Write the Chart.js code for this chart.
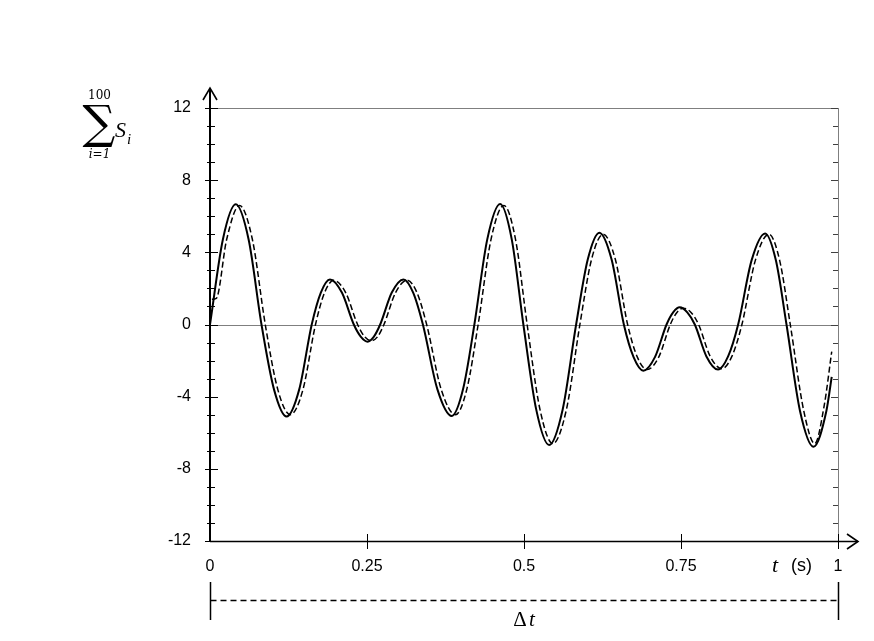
<!DOCTYPE html>
<html>
<head>
<meta charset="utf-8">
<script src="https://cdn.jsdelivr.net/npm/chart.js@4"></script>
<style>
html,body{margin:0;padding:0;background:#fff;}
canvas{display:block;}
</style>
</head>
<body>
<canvas id="c" width="874" height="641"></canvas>
<script>
// ---- data ----
const xTickLabels = ['0', '0.25', '0.5', '0.75', '1'];
const yTickLabels = ['-12', '-8', '-4', '0', '4', '8', '12'];

// solid curve: sum of 100 components
const solidT = [0, 0.0205, 0.041, 0.0615, 0.082, 0.102, 0.122, 0.142, 0.162, 0.1765, 0.191, 0.210, 0.229, 0.240, 0.251, 0.261, 0.271, 0.2895, 0.308, 0.3235, 0.339, 0.362, 0.385, 0.403, 0.421, 0.4415, 0.462, 0.4805, 0.499, 0.5195, 0.540, 0.5615, 0.583, 0.6015, 0.620, 0.6395, 0.659, 0.6745, 0.690, 0.7085, 0.727, 0.7375, 0.748, 0.760, 0.772, 0.7905, 0.809, 0.825, 0.841, 0.8625, 0.884, 0.901, 0.918, 0.9395, 0.961, 0.9815, 0.99];
const solidV = [0, 4.71, 6.66, 4.71, 0, -3.61, -5.1, -3.61, 0, 1.77, 2.5, 1.77, 0, -0.67, -0.95, -0.67, 0, 1.77, 2.5, 1.77, 0, -3.58, -5.07, -3.58, 0, 4.72, 6.68, 4.72, 0, -4.72, -6.68, -4.72, 0, 3.6, 5.09, 3.6, 0, -1.81, -2.56, -1.81, 0, 0.67, 0.95, 0.67, 0, -1.77, -2.5, -1.77, 0, 3.57, 5.05, 3.57, 0, -4.79, -6.77, -4.79, -2.9];

// dashed curve
const dashedT = [0.003, 0.010, 0.0265, 0.047, 0.0675, 0.088, 0.108, 0.128, 0.148, 0.168, 0.1825, 0.197, 0.216, 0.235, 0.246, 0.257, 0.267, 0.277, 0.2955, 0.314, 0.3295, 0.345, 0.368, 0.391, 0.409, 0.427, 0.4475, 0.468, 0.4865, 0.505, 0.5255, 0.546, 0.5675, 0.589, 0.6075, 0.626, 0.6455, 0.665, 0.6805, 0.696, 0.7145, 0.733, 0.7435, 0.754, 0.766, 0.778, 0.7965, 0.815, 0.831, 0.847, 0.8685, 0.890, 0.907, 0.924, 0.9455, 0.963, 0.978, 0.99];
const dashedV = [1.4, 1.45, 4.71, 6.6, 4.71, 0, -3.61, -5.0, -3.61, 0, 1.77, 2.45, 1.77, 0, -0.67, -0.9, -0.67, 0, 1.77, 2.45, 1.77, 0, -3.58, -5.0, -3.58, 0, 4.72, 6.6, 4.72, 0, -4.72, -6.6, -4.72, 0, 3.6, 5.0, 3.6, 0, -1.81, -2.5, -1.81, 0, 0.67, 0.9, 0.67, 0, -1.77, -2.45, -1.77, 0, 3.57, 5.0, 3.57, 0, -4.79, -6.6, -4.5, -1.5];

const solidData = solidT.map((t, i) => ({x: t, y: solidV[i]}));
const dashedData = dashedT.map((t, i) => ({x: t, y: dashedV[i]}));

const TICK_FONT = {family: '"Liberation Sans", Arial, sans-serif', size: 16};

const deco = {
  id: 'deco',
  beforeDatasetsDraw(chart) {
    const {ctx, chartArea: a, scales: {y}} = chart;
    const y0 = Math.round(y.getPixelForValue(0)) + 0.5;
    ctx.save();
    ctx.strokeStyle = '#7f7f7f';
    ctx.lineWidth = 1;
    ctx.beginPath(); ctx.moveTo(a.left, y0); ctx.lineTo(a.right, y0); ctx.stroke();
    ctx.restore();
  },
  afterDraw(chart) {
    const {ctx, chartArea: a, scales: {x, y}} = chart;
    const L = a.left, R = a.right, T = a.top, B = a.bottom;
    ctx.save();
    // frame top & right
    ctx.strokeStyle = '#7f7f7f';
    ctx.lineWidth = 1;
    ctx.beginPath();
    ctx.moveTo(L, T + 0.5); ctx.lineTo(R, T + 0.5);
    ctx.moveTo(R + 0.5, T); ctx.lineTo(R + 0.5, B);
    ctx.stroke();
    // right-side inward ticks
    ctx.strokeStyle = '#404040';
    ctx.beginPath();
    for (let v = -12; v <= 12; v++) {
      const py = Math.round(y.getPixelForValue(v)) + 0.5;
      const len = (v % 4 === 0) ? 7 : 5;
      ctx.moveTo(R, py); ctx.lineTo(R - len, py);
    }
    ctx.stroke();
    // y axis with arrow
    ctx.strokeStyle = '#000';
    ctx.lineWidth = 2;
    ctx.beginPath();
    ctx.moveTo(L, B); ctx.lineTo(L, T - 20);
    ctx.stroke();
    ctx.lineWidth = 1.6;
    ctx.beginPath();
    ctx.moveTo(L - 7, T - 8); ctx.lineTo(L, T - 20); ctx.lineTo(L + 7, T - 8);
    ctx.stroke();
    // y ticks
    ctx.lineWidth = 1;
    ctx.beginPath();
    for (let v = -12; v <= 12; v++) {
      const py = Math.round(y.getPixelForValue(v)) + 0.5;
      if (v % 4 === 0) { ctx.moveTo(L - 5, py); ctx.lineTo(L + 8, py); }
      else { ctx.moveTo(L - 3, py); ctx.lineTo(L + 5, py); }
    }
    ctx.stroke();
    // x axis with arrow
    ctx.lineWidth = 1.5;
    ctx.beginPath();
    ctx.moveTo(L, B + 0.5); ctx.lineTo(R + 20, B + 0.5);
    ctx.stroke();
    ctx.lineWidth = 1.6;
    ctx.beginPath();
    ctx.moveTo(R + 9, B - 7); ctx.lineTo(R + 20, B + 0.5); ctx.lineTo(R + 9, B + 8);
    ctx.stroke();
    // x ticks
    ctx.lineWidth = 1;
    ctx.beginPath();
    [0.25, 0.5, 0.75].forEach(v => {
      const px = Math.round(x.getPixelForValue(v)) + 0.5;
      ctx.moveTo(px, B - 7); ctx.lineTo(px, B + 8);
    });
    const p1 = Math.round(x.getPixelForValue(1)) + 0.5;
    ctx.moveTo(p1, B - 7); ctx.lineTo(p1, B + 8);
    ctx.stroke();

    // t (s)
    ctx.fillStyle = '#000';
    ctx.textBaseline = 'middle';
    ctx.textAlign = 'left';
    ctx.font = 'italic 22px "Liberation Serif", "DejaVu Serif", serif';
    ctx.fillText('t', 772, 566);
    ctx.font = '18px "Liberation Sans", Arial, sans-serif';
    ctx.fillText('(s)', 791, 566);

    // Delta t bracket
    const x0 = Math.round(x.getPixelForValue(0)) + 0.5;
    ctx.lineWidth = 1.5;
    ctx.beginPath();
    ctx.moveTo(x0, 582); ctx.lineTo(x0, 620);
    ctx.moveTo(p1, 582); ctx.lineTo(p1, 620);
    ctx.stroke();
    ctx.setLineDash([6, 4]);
    ctx.beginPath();
    ctx.moveTo(x0, 600.5); ctx.lineTo(p1, 600.5);
    ctx.stroke();
    ctx.setLineDash([]);
    ctx.textAlign = 'center';
    ctx.font = '21px "Liberation Serif", "DejaVu Serif", serif';
    ctx.fillText('\u0394', 520, 620);
    ctx.font = 'italic 21px "Liberation Serif", "DejaVu Serif", serif';
    ctx.fillText('t', 532, 620);

    // Sigma label
    ctx.textAlign = 'center';
    ctx.font = '12px "DejaVu Serif", serif';
    ctx.fillText('100', 99.5, 96);
    ctx.font = '46px "DejaVu Serif", serif';
    ctx.fillText('\u2211', 99, 126);
    ctx.font = 'italic 12px "DejaVu Serif", serif';
    ctx.fillText('i=1', 99.5, 155);
    ctx.textAlign = 'left';
    ctx.font = 'italic 22px "Liberation Serif", "DejaVu Serif", serif';
    ctx.fillText('S', 115, 131);
    ctx.font = 'italic 15px "Liberation Serif", "DejaVu Serif", serif';
    ctx.fillText('i', 127, 140);
    ctx.restore();
  }
};

new Chart(document.getElementById('c'), {
  type: 'line',
  data: {
    datasets: [
      {data: solidData, borderColor: '#000', borderWidth: 2, pointRadius: 0, cubicInterpolationMode: 'monotone', fill: false},
      {data: dashedData, borderColor: '#000', borderWidth: 1.5, borderDash: [6, 3], pointRadius: 0, cubicInterpolationMode: 'monotone', fill: false}
    ]
  },
  options: {
    responsive: false,
    animation: false,
    devicePixelRatio: 1,
    layout: {padding: {left: 0, top: 108, right: 36, bottom: 0}},
    plugins: {legend: {display: false}, tooltip: {enabled: false}},
    scales: {
      x: {
        type: 'linear', min: 0, max: 1,
        ticks: {stepSize: 0.25, autoSkip: false, maxRotation: 0, color: '#000', font: TICK_FONT, padding: 16,
          callback: (v, i) => xTickLabels[i]},
        grid: {display: false, drawTicks: false},
        border: {display: false},
        afterFit(s) { s.height = 100; }
      },
      y: {
        type: 'linear', min: -12, max: 12,
        ticks: {stepSize: 4, autoSkip: false, color: '#000', font: TICK_FONT, padding: 19,
          callback: (v, i) => yTickLabels[i]},
        grid: {display: false, drawTicks: false},
        border: {display: false},
        afterFit(s) { s.width = 210; }
      }
    }
  },
  plugins: [deco]
});
</script>
</body>
</html>
